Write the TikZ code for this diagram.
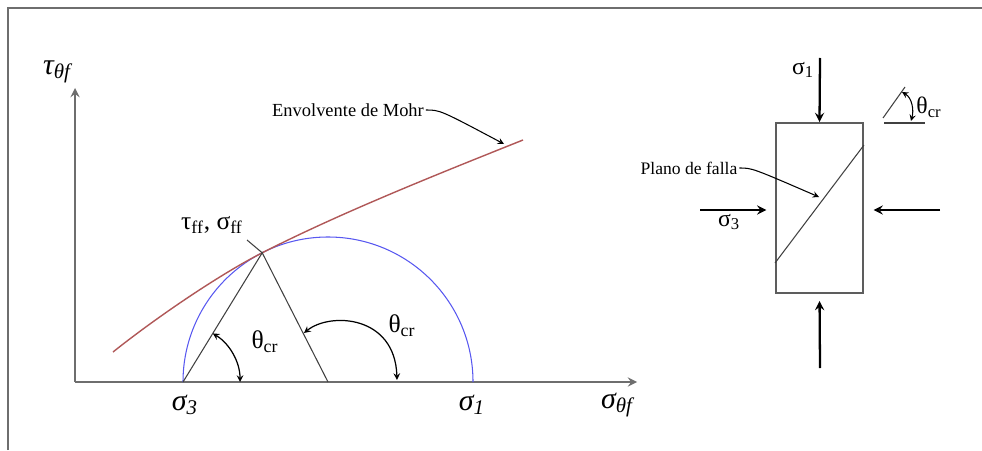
\documentclass[tikz,border=0pt]{standalone}
\usepackage{fontspec}
\setmainfont{Liberation Serif}
\usepackage{tikz}
\usetikzlibrary{arrows}

\definecolor{mohrred}{RGB}{176,88,88}
\definecolor{mohrblue}{RGB}{88,88,240}
\definecolor{darkline}{RGB}{64,64,64}
\definecolor{axisgray}{RGB}{110,110,110}

\tikzstyle{axis} = [line width=1.3pt, draw=axisgray, ->, >=stealth]
\tikzstyle{segment} = [line width=0.6pt, draw=darkline]
\tikzstyle{angarrow} = [line width=0.7pt, <->, >=stealth]
\tikzstyle{pointer} = [line width=0.6pt, ->, >=stealth]
\tikzstyle{load} = [line width=1.3pt, ->, >=stealth]
\tikzstyle{specimen} = [rectangle, draw=darkline!85!white, line width=1.1pt, minimum width=1.74cm, minimum height=3.4cm, inner sep=0pt]
\tikzstyle{biglabel} = [inner sep=1pt, font=\fontsize{17}{20}\selectfont\itshape]
\tikzstyle{anglabel} = [inner sep=1pt, font=\fontsize{14.5}{17}\selectfont]
\tikzstyle{smalllabel} = [inner sep=1pt, font=\fontsize{10.5}{12}\selectfont]
\tikzstyle{loadlabel} = [inner sep=1pt, font=\fontsize{13.5}{16}\selectfont]

\newcommand{\thcr}{θ\textsubscript{cr}}

\begin{document}
\begin{tikzpicture}[x=0.02cm, y=0.02cm]
\useasboundingbox (0,0) rectangle (982,450);

% frame
\draw[line width=1.2pt, draw=axisgray] (8,0) -- (8,442) -- (982,442);

% axes
\coordinate (O) at (75,68);
\coordinate (Ytop) at (75,362);
\coordinate (Xend) at (637,68);
\draw[axis] (O) -- (Ytop);
\draw[axis] (O) -- (Xend);

% Mohr circle
\coordinate (S3) at (183,68);
\coordinate (C) at (328,68);
\coordinate (S1) at (473,68);
\coordinate (T) at (262.2,197.2);
\draw[mohrblue, line width=0.6pt] (S1) arc[start angle=0, end angle=180, radius=145];

% envelope
\coordinate (EA) at (113,98);
\coordinate (EB) at (523,310);
\draw[mohrred, line width=0.8pt] (EA) .. controls (153,130) and (217.6,174.5) .. (T) .. controls (342.4,238.1) and (443,278) .. (EB);

\draw[segment] (S3) -- (T) -- (C);

% angles
\path (S3) ++(58.5:57) coordinate (A1s);
\coordinate (A2s) at (304,117);
\coordinate (A2e) at (397,70);
\draw[angarrow] (A1s) arc[start angle=58.5, end angle=0, radius=57];
\draw[angarrow] (A2s) .. controls (330,138) and (395,135) .. (A2e);

\node (tauax) [biglabel] at (57,378) {τ\textsubscript{θf}};
\node (sigax) [biglabel] at (617,45) {σ\textsubscript{θf}};
\node (sig3) [biglabel] at (185,45) {σ\textsubscript{3}};
\node (sig1) [biglabel] at (472,45) {σ\textsubscript{1}};
\node (th1) [anglabel] at (265,108) {\thcr};
\node (th2) [anglabel] at (402,124) {\thcr};

\node (tp) [anglabel] at (212,225) {τ\textsubscript{ff}, σ\textsubscript{ff}};
\coordinate (tpend) at (247,210);
\draw[segment] (tpend) -- (T);

\node (env) [smalllabel] at (348,340) {Envolvente de Mohr};
\coordinate (envtip) at (504,306);
\draw[pointer] (env.east) .. controls (440,340) .. (envtip);

% specimen
\node (probeta) [specimen] at (819.5,242) {};
\draw[segment] ([yshift=0.62cm]probeta.south west) -- ([yshift=-0.46cm]probeta.north east);

\coordinate (ptop) at (820,392);
\coordinate (pbot) at (820,82);
\coordinate (pleft) at (700,240);
\coordinate (pright) at (940,240);
\draw[load] (ptop) -- (probeta.north);
\draw[load, shorten >=4pt] (pbot) -- (probeta.south);
\draw[load, shorten >=5pt] (pleft) -- (pleft -| probeta.west);
\draw[load, shorten >=5.5pt] (pright) -- (pright -| probeta.east);

\node (s1r) [loadlabel] at (803,380) {σ\textsubscript{1}};
\node (s3r) [loadlabel] at (729,228) {σ\textsubscript{3}};

\node (falla) [smalllabel, font=\fontsize{10}{12}\selectfont] at (689,282) {Plano de falla};
\coordinate (fallatip) at (819,253);
\draw[pointer] (falla.east) .. controls (752,282) .. (fallatip);

% angle sketch
\coordinate (hA) at (884,327);
\coordinate (hB) at (925,327);
\coordinate (iA) at (883,332);
\coordinate (iB) at (905,363);
\coordinate (a3s) at (902,358);
\coordinate (a3e) at (911,329);
\draw[segment] (hA) -- (hB);
\draw[segment] (iA) -- (iB);
\draw[angarrow, line width=0.6pt] (a3s) .. controls (912,352) and (914,340) .. (a3e);
\node (thr) [loadlabel] at (929,343) {\thcr};

\end{tikzpicture}
\end{document}
